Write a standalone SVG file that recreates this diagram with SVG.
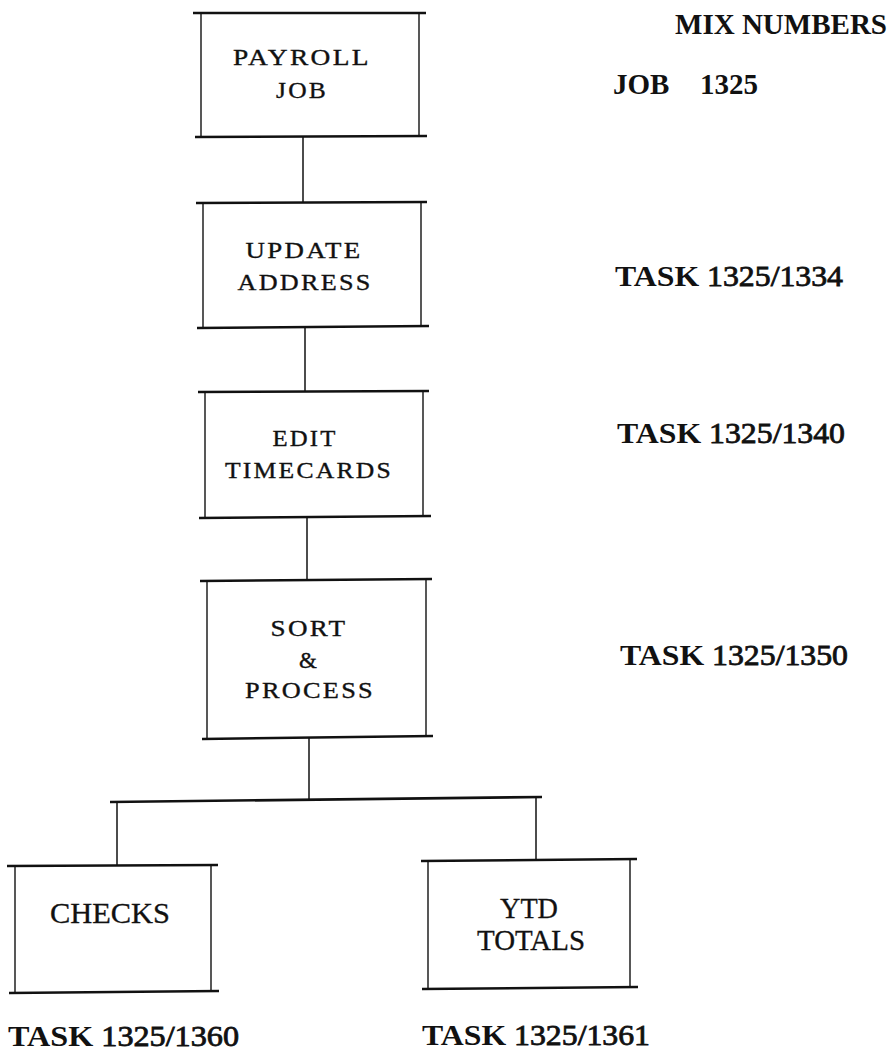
<svg xmlns="http://www.w3.org/2000/svg" width="892" height="1050" viewBox="0 0 892 1050">
<style>
.hl{stroke:#111;stroke-width:2.6;fill:none;stroke-linecap:butt}
.vl{stroke:#111;stroke-width:1.4;fill:none}
.cn{stroke:#111;stroke-width:1.5;fill:none}
.br{stroke:#111;stroke-width:2.6;fill:none}
.lb{font-family:"Liberation Serif","DejaVu Serif",serif;font-size:23px;letter-spacing:2px;fill:#111;stroke:#111;stroke-width:0.35;text-anchor:middle}
.lb2{font-family:"Liberation Serif","DejaVu Serif",serif;font-size:29px;fill:#111;stroke:#111;stroke-width:0.3;text-anchor:middle}
.mx{font-family:"Liberation Serif","DejaVu Serif",serif;font-size:29px;fill:#111;font-weight:bold}
.num{font-weight:normal;stroke:#111;stroke-width:0.8}
</style>
<rect x="0" y="0" width="892" height="1050" fill="#fff"/>
<g id="connectors">
<line class="cn" x1="303" y1="137" x2="303" y2="203"/>
<line class="cn" x1="305" y1="327" x2="305" y2="392"/>
<line class="cn" x1="307" y1="517" x2="307" y2="580"/>
<line class="cn" x1="309" y1="738" x2="309" y2="800"/>
<line class="br" x1="110" y1="802" x2="542" y2="797"/>
<line class="cn" x1="117" y1="802" x2="117" y2="865"/>
<line class="cn" x1="536" y1="798" x2="536" y2="860"/>
</g>
<g id="payroll">
<line class="hl" x1="193" y1="13" x2="426" y2="13"/>
<line class="vl" x1="201" y1="13" x2="201" y2="137"/>
<line class="vl" x1="419" y1="13" x2="419" y2="137"/>
<line class="hl" x1="195" y1="137" x2="427" y2="136"/>
<text class="lb" x="302" y="65" textLength="138" lengthAdjust="spacingAndGlyphs">PAYROLL</text>
<text class="lb" x="302" y="98" textLength="52" lengthAdjust="spacingAndGlyphs">JOB</text>
</g>
<g id="update">
<line class="hl" x1="196" y1="203" x2="427" y2="202"/>
<line class="vl" x1="203" y1="203" x2="203" y2="327"/>
<line class="vl" x1="421" y1="203" x2="421" y2="327"/>
<line class="hl" x1="197" y1="328" x2="429" y2="326"/>
<text class="lb" x="304" y="258" textLength="117" lengthAdjust="spacingAndGlyphs">UPDATE</text>
<text class="lb" x="305" y="290" textLength="135" lengthAdjust="spacingAndGlyphs">ADDRESS</text>
</g>
<g id="edit">
<line class="hl" x1="198" y1="392" x2="429" y2="391"/>
<line class="vl" x1="205" y1="392" x2="205" y2="517"/>
<line class="vl" x1="423" y1="392" x2="423" y2="517"/>
<line class="hl" x1="199" y1="518" x2="431" y2="516"/>
<text class="lb" x="305" y="446" textLength="65" lengthAdjust="spacingAndGlyphs">EDIT</text>
<text class="lb" x="309" y="478" textLength="168" lengthAdjust="spacingAndGlyphs">TIMECARDS</text>
</g>
<g id="sort">
<line class="hl" x1="200" y1="581" x2="432" y2="579"/>
<line class="vl" x1="207" y1="581" x2="207" y2="738"/>
<line class="vl" x1="426" y1="580" x2="426" y2="737"/>
<line class="hl" x1="202" y1="739" x2="433" y2="736"/>
<text class="lb" x="309" y="636" textLength="77" lengthAdjust="spacingAndGlyphs">SORT</text>
<text class="lb" x="309" y="668">&amp;</text>
<text class="lb" x="310" y="698" textLength="130" lengthAdjust="spacingAndGlyphs">PROCESS</text>
</g>
<g id="checks">
<line class="hl" x1="7" y1="866" x2="218" y2="865"/>
<line class="vl" x1="15" y1="866" x2="15" y2="992"/>
<line class="vl" x1="211" y1="865" x2="211" y2="991"/>
<line class="hl" x1="9" y1="993" x2="219" y2="991"/>
<text class="lb2" x="110" y="923" textLength="120" lengthAdjust="spacingAndGlyphs">CHECKS</text>
</g>
<g id="ytd">
<line class="hl" x1="421" y1="861" x2="637" y2="859"/>
<line class="vl" x1="428" y1="861" x2="428" y2="989"/>
<line class="vl" x1="630" y1="859" x2="630" y2="987"/>
<line class="hl" x1="422" y1="989" x2="638" y2="987"/>
<text class="lb2" x="529" y="918" textLength="58" lengthAdjust="spacingAndGlyphs">YTD</text>
<text class="lb2" x="531" y="950" textLength="108" lengthAdjust="spacingAndGlyphs">TOTALS</text>
</g>
<g id="mix-labels">
<text class="mx" x="675" y="34" textLength="212" lengthAdjust="spacingAndGlyphs">MIX  NUMBERS</text>
<text class="mx" x="613" y="94">JOB<tspan x="700">1325</tspan></text>
<text class="mx" x="615" y="286" textLength="228" lengthAdjust="spacingAndGlyphs">TASK  <tspan class="num">1325/1334</tspan></text>
<text class="mx" x="617" y="443" textLength="228" lengthAdjust="spacingAndGlyphs">TASK  <tspan class="num">1325/1340</tspan></text>
<text class="mx" x="620" y="665" textLength="228" lengthAdjust="spacingAndGlyphs">TASK  <tspan class="num">1325/1350</tspan></text>
<text class="mx" x="8" y="1046" textLength="231" lengthAdjust="spacingAndGlyphs">TASK  <tspan class="num">1325/1360</tspan></text>
<text class="mx" x="422" y="1045" textLength="228" lengthAdjust="spacingAndGlyphs">TASK  <tspan class="num">1325/1361</tspan></text>
</g>
</svg>
